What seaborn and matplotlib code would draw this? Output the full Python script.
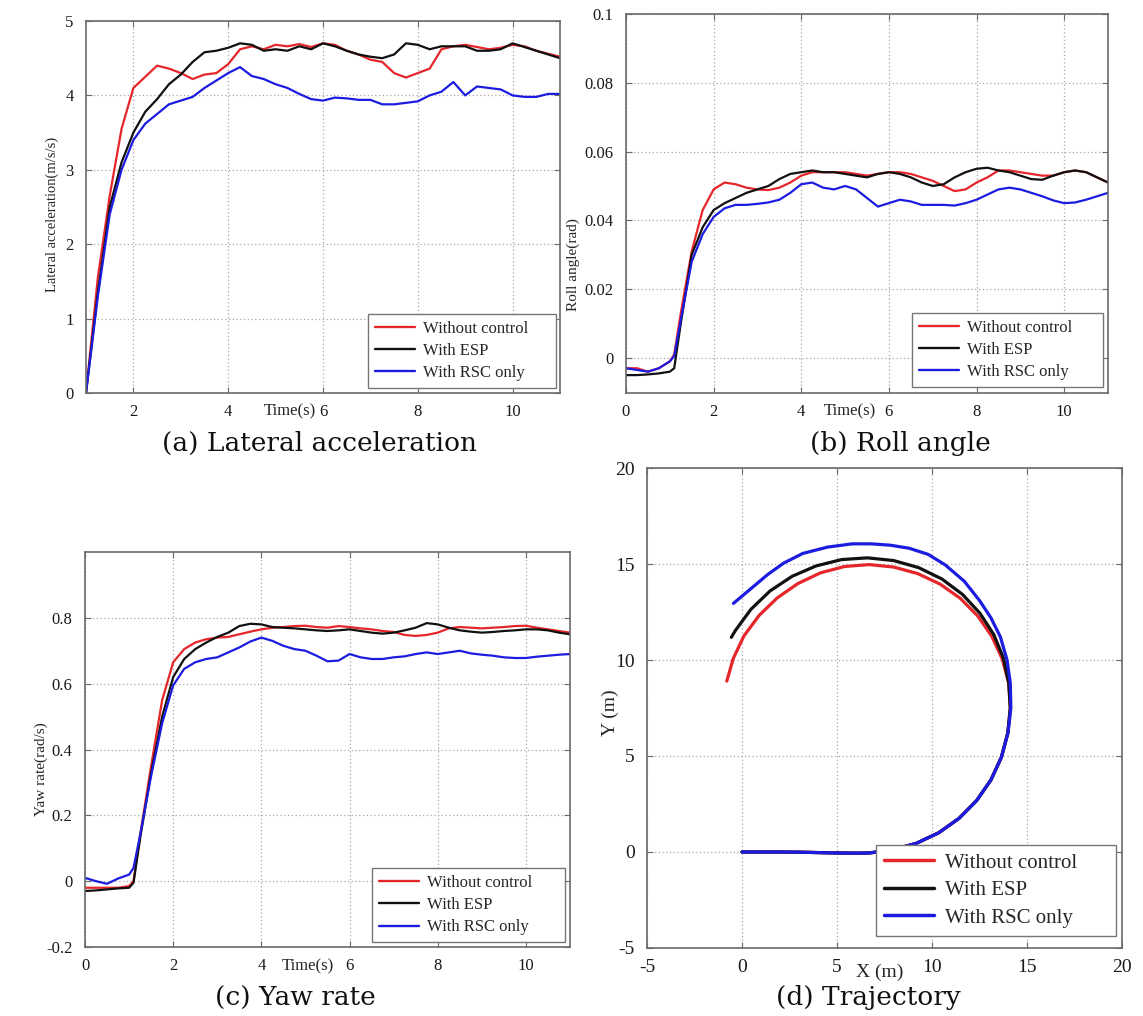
import numpy as np
import pandas as pd
import matplotlib
matplotlib.use("Agg")
import matplotlib.pyplot as plt
from matplotlib.lines import Line2D
import seaborn as sns

# ---------------- data ----------------
series_names = ["Without control", "With ESP", "With RSC only"]
series_colors = ["#e5262b", "#111111", "#1c1ce0"]

# (a) Lateral acceleration
t_a = [1.0, 1.25, 1.5, 1.75, 2.0, 2.25, 2.5, 2.75, 3.0, 3.25, 3.5, 3.75, 4.0, 4.25, 4.5, 4.75,
       5.0, 5.25, 5.5, 5.75, 6.0, 6.25, 6.5, 6.75, 7.0, 7.25, 7.5, 7.75, 8.0, 8.25, 8.5, 8.75,
       9.0, 9.25, 9.5, 9.75, 10.0, 10.25, 10.5, 10.75, 11.0]
lat_none = [0.0, 1.55, 2.65, 3.55, 4.1, 4.25, 4.4, 4.36, 4.3, 4.22, 4.28, 4.3, 4.42, 4.62, 4.66, 4.62,
            4.68, 4.66, 4.69, 4.65, 4.7, 4.68, 4.6, 4.55, 4.48, 4.45, 4.3, 4.24, 4.3, 4.36, 4.62, 4.66,
            4.68, 4.65, 4.62, 4.64, 4.68, 4.66, 4.6, 4.56, 4.52]
lat_esp = [0.0, 1.35, 2.5, 3.1, 3.5, 3.78, 3.95, 4.15, 4.28, 4.45, 4.58, 4.6, 4.64, 4.7, 4.68, 4.6,
           4.62, 4.6, 4.66, 4.62, 4.7, 4.66, 4.6, 4.55, 4.52, 4.5, 4.55, 4.7, 4.68, 4.62, 4.66, 4.66,
           4.66, 4.6, 4.6, 4.62, 4.7, 4.65, 4.6, 4.55, 4.5]
lat_rsc = [0.0, 1.3, 2.4, 3.0, 3.4, 3.62, 3.75, 3.88, 3.93, 3.98, 4.1, 4.2, 4.3, 4.38, 4.26, 4.22,
           4.15, 4.1, 4.02, 3.95, 3.93, 3.97, 3.96, 3.94, 3.94, 3.88, 3.88, 3.9, 3.92, 4.0, 4.05, 4.18,
           4.0, 4.12, 4.1, 4.08, 4.0, 3.98, 3.98, 4.02, 4.02]

# (b) Roll angle and (c) Yaw rate share a time base
t_bc = [0.0, 0.25, 0.5, 0.75, 1.0, 1.1, 1.25, 1.5, 1.75, 2.0, 2.25, 2.5, 2.75, 3.0, 3.25, 3.5,
        3.75, 4.0, 4.25, 4.5, 4.75, 5.0, 5.25, 5.5, 5.75, 6.0, 6.25, 6.5, 6.75, 7.0, 7.25, 7.5,
        7.75, 8.0, 8.25, 8.5, 8.75, 9.0, 9.25, 9.5, 9.75, 10.0, 10.25, 10.5, 10.75, 11.0]
roll_none = [-0.003, -0.003, -0.004, -0.003, -0.001, 0.001, 0.013, 0.031, 0.043, 0.049, 0.051, 0.0505,
             0.0495, 0.049, 0.0488, 0.0495, 0.051, 0.053, 0.054, 0.054, 0.054, 0.054, 0.0535, 0.053,
             0.0535, 0.054, 0.054, 0.0535, 0.0525, 0.0515, 0.05, 0.0485, 0.049, 0.051, 0.0525, 0.0545,
             0.0545, 0.054, 0.0535, 0.053, 0.053, 0.054, 0.0545, 0.054, 0.0525, 0.051]
roll_esp = [-0.005, -0.005, -0.0048, -0.0045, -0.004, -0.003, 0.01, 0.03, 0.038, 0.043, 0.045, 0.0465,
            0.048, 0.049, 0.05, 0.052, 0.0535, 0.054, 0.0545, 0.054, 0.054, 0.0535, 0.053, 0.0525,
            0.0535, 0.054, 0.0535, 0.0525, 0.051, 0.05, 0.0505, 0.0525, 0.054, 0.055, 0.0553, 0.0545,
            0.054, 0.053, 0.052, 0.0518, 0.053, 0.054, 0.0545, 0.054, 0.0525, 0.051]
roll_rsc = [-0.003, -0.0035, -0.004, -0.003, -0.001, 0.0005, 0.011, 0.028, 0.036, 0.041, 0.0435, 0.0445,
            0.0445, 0.0448, 0.0452, 0.046, 0.048, 0.0505, 0.051, 0.0495, 0.049, 0.05, 0.049, 0.0465,
            0.044, 0.045, 0.046, 0.0455, 0.0445, 0.0445, 0.0445, 0.0443, 0.045, 0.046, 0.0475, 0.049,
            0.0495, 0.049, 0.048, 0.047, 0.0458, 0.045, 0.0452, 0.046, 0.047, 0.048]

yaw_none = [-0.02, -0.02, -0.02, -0.02, -0.015, 0.0, 0.14, 0.35, 0.55, 0.665, 0.705, 0.725, 0.735, 0.74,
            0.742, 0.75, 0.758, 0.765, 0.77, 0.772, 0.775, 0.776, 0.772, 0.77, 0.775, 0.772, 0.768,
            0.765, 0.76, 0.757, 0.748, 0.745, 0.748, 0.755, 0.768, 0.772, 0.77, 0.768, 0.77, 0.772,
            0.775, 0.776, 0.77, 0.765, 0.76, 0.755]
yaw_esp = [-0.03, -0.028, -0.025, -0.022, -0.02, -0.005, 0.13, 0.33, 0.5, 0.62, 0.675, 0.705, 0.725,
           0.742, 0.755, 0.775, 0.782, 0.78, 0.772, 0.77, 0.768, 0.765, 0.762, 0.76, 0.762, 0.765,
           0.76, 0.755, 0.752, 0.755, 0.762, 0.77, 0.784, 0.78, 0.77, 0.762, 0.758, 0.755, 0.757,
           0.76, 0.762, 0.765, 0.765, 0.762, 0.755, 0.75]
yaw_rsc = [0.01, 0.0, -0.008, 0.008, 0.02, 0.04, 0.14, 0.32, 0.48, 0.595, 0.645, 0.665, 0.675, 0.68,
           0.695, 0.71, 0.728, 0.74, 0.73, 0.715, 0.705, 0.7, 0.685, 0.668, 0.67, 0.69, 0.68, 0.675,
           0.675, 0.68, 0.683, 0.69, 0.695, 0.69, 0.695, 0.7, 0.692, 0.688, 0.685, 0.68, 0.678,
           0.678, 0.682, 0.685, 0.688, 0.69]

# (d) Trajectory
traj_x_none = [0, 1, 2, 3, 4, 5, 6, 6.7, 7.9, 9.17, 10.35, 11.42, 12.35, 13.1, 13.65, 13.99, 14.12,
               14.04, 13.7, 13.15, 12.41, 11.49, 10.43, 9.25, 7.99, 6.7, 5.4, 4.13, 2.94, 1.85, 0.9,
               0.1, -0.46, -0.8]
traj_y_none = [0, 0, 0, -0.01, -0.03, -0.05, -0.06, -0.05, 0.11, 0.45, 1.0, 1.75, 2.68, 3.75, 4.93,
               6.2, 7.5, 8.79, 10.05, 11.23, 12.29, 13.21, 13.95, 14.5, 14.84, 14.97, 14.87, 14.54,
               13.98, 13.23, 12.32, 11.25, 10.08, 8.9]
traj_x_esp = [0, 1, 2, 3, 4, 5, 6, 6.7, 7.9, 9.17, 10.35, 11.42, 12.35, 13.1, 13.65, 13.99, 14.12,
              14.04, 13.76, 13.25, 12.52, 11.6, 10.52, 9.3, 7.98, 6.6, 5.24, 3.9, 2.64, 1.48, 0.47,
              -0.36, -0.56]
traj_y_esp = [0, 0, 0, -0.01, -0.03, -0.05, -0.06, -0.05, 0.11, 0.45, 1.0, 1.75, 2.68, 3.75, 4.93,
              6.2, 7.5, 8.81, 10.1, 11.33, 12.44, 13.42, 14.22, 14.81, 15.18, 15.32, 15.23, 14.9,
              14.36, 13.6, 12.64, 11.52, 11.18]
traj_x_rsc = [0, 1, 2, 3, 4, 5, 6, 6.7, 7.9, 9.17, 10.35, 11.42, 12.35, 13.1, 13.65, 14.0, 14.15,
              14.12, 13.95, 13.6, 13.1, 12.5, 11.7, 10.7, 9.8, 8.8, 7.8, 6.8, 5.8, 4.5, 3.2, 2.2,
              1.35, 0.45, -0.45]
traj_y_rsc = [0, 0, 0, -0.01, -0.03, -0.05, -0.06, -0.05, 0.11, 0.45, 1.0, 1.75, 2.68, 3.75, 4.93,
              6.2, 7.5, 8.8, 10.0, 11.2, 12.2, 13.1, 14.1, 14.95, 15.5, 15.82, 15.98, 16.05, 16.05,
              15.88, 15.55, 15.05, 14.45, 13.7, 12.95]

# tick labels
ticks_a_x = [2, 4, 6, 8, 10]
ticks_a_y = [0, 1, 2, 3, 4, 5]
ticks_b_x = [0, 2, 4, 6, 8, 10]
ticks_b_y = [0, 0.02, 0.04, 0.06, 0.08, 0.1]
labels_b_y = ["0", "0.02", "0.04", "0.06", "0.08", "0.1"]
ticks_c_y = [-0.2, 0, 0.2, 0.4, 0.6, 0.8]
labels_c_y = ["-0.2", "0", "0.2", "0.4", "0.6", "0.8"]
ticks_d = [-5, 0, 5, 10, 15, 20]
labels_d = ["-5", "0", "5", "10", "15", "20"]

captions = ["(a) Lateral acceleration", "(b) Roll angle", "(c) Yaw rate", "(d) Trajectory"]

# ---------------- style ----------------
sns.set_theme(style="ticks")
plt.rcParams["font.family"] = ["Liberation Serif", "DejaVu Serif"]
plt.rcParams["axes.unicode_minus"] = False
plt.rcParams["axes.edgecolor"] = "#6a6a6a"
plt.rcParams["xtick.color"] = "#6a6a6a"
plt.rcParams["ytick.color"] = "#6a6a6a"
plt.rcParams["xtick.labelcolor"] = "#1a1a1a"
plt.rcParams["ytick.labelcolor"] = "#1a1a1a"

W, H = 1143, 1016
fig = plt.figure(figsize=(W / 100, H / 100), dpi=100)


def px_axes(l, t, r, b):
    return fig.add_axes([l / W, 1 - b / H, (r - l) / W, (b - t) / H])


def long_df(x, ys, xname="t"):
    frames = []
    for name, y in zip(series_names, ys):
        frames.append(pd.DataFrame({xname: x, "v": y, "series": name}))
    return pd.concat(frames, ignore_index=True)


def long_df_xy(xs, ys):
    frames = []
    for name, x, y in zip(series_names, xs, ys):
        frames.append(pd.DataFrame({"x": x, "y": y, "series": name}))
    return pd.concat(frames, ignore_index=True)


def style_axes(ax, tick_size=12):
    for s in ax.spines.values():
        s.set_visible(True)
        s.set_linewidth(1.2)
        s.set_color("#6a6a6a")
    ax.tick_params(direction="in", length=4, width=0.8, labelsize=tick_size,
                   top=True, right=True)
    ax.tick_params(axis="x", pad=8)
    ax.tick_params(axis="y", pad=9)
    ax.grid(True, linestyle=(0, (1, 2)), color="#a8a8a8", linewidth=0.9)
    ax.set_axisbelow(True)


def add_legend(ax, x0, y0, x1, y1, size=12, lw=1.7):
    handles = [Line2D([0], [0], color=c, lw=lw) for c in series_colors]
    leg = ax.legend(handles, series_names, loc="lower left", mode="expand",
                    bbox_to_anchor=(x0 / W, 1 - y1 / H, (x1 - x0) / W, (y1 - y0) / H),
                    bbox_transform=fig.transFigure,
                    borderaxespad=0, fancybox=False, frameon=True, fontsize=size,
                    handlelength=2.4, handletextpad=0.5, labelspacing=0.38,
                    borderpad=0.4)
    fr = leg.get_frame()
    fr.set_edgecolor("#777777")
    fr.set_linewidth(1.0)
    fr.set_alpha(1)
    return leg


palette = dict(zip(series_names, series_colors))

# (a)
ax = px_axes(86, 21, 560, 393)
sns.lineplot(data=long_df(t_a, [lat_none, lat_esp, lat_rsc]), x="t", y="v", hue="series",
             palette=palette, estimator=None, linewidth=1.6, legend=False, ax=ax)
ax.set_xlim(1, 11)
ax.set_ylim(0, 5)
ax.set_xticks(ticks_a_x)
ax.set_yticks(ticks_a_y)
style_axes(ax)
ax.set_xlabel("Time(s)", fontsize=12)
ax.xaxis.set_label_coords(0.43, -0.05)
ax.xaxis.label.set_va("center")
ax.set_ylabel("Lateral acceleration(m/s/s)", fontsize=10.5)
ax.yaxis.set_label_coords(-0.056, 0.48)
add_legend(ax, 368, 315, 556, 388)

# (b)
ax = px_axes(626, 14, 1108, 393)
sns.lineplot(data=long_df(t_bc, [roll_none, roll_esp, roll_rsc]), x="t", y="v", hue="series",
             palette=palette, estimator=None, linewidth=1.6, legend=False, ax=ax)
ax.set_xlim(0, 11)
ax.set_ylim(-0.0102, 0.1)
ax.set_xticks(ticks_b_x)
ax.set_yticks(ticks_b_y)
ax.set_yticklabels(labels_b_y)
style_axes(ax)
ax.set_xlabel("Time(s)", fontsize=12)
ax.xaxis.set_label_coords(0.465, -0.049)
ax.xaxis.label.set_va("center")
ax.set_ylabel("Roll angle(rad)", fontsize=11)
ax.yaxis.set_label_coords(-0.095, 0.34)
add_legend(ax, 912, 313, 1103, 387)

# (c)
ax = px_axes(85, 552, 570, 947)
sns.lineplot(data=long_df(t_bc, [yaw_none, yaw_esp, yaw_rsc]), x="t", y="v", hue="series",
             palette=palette, estimator=None, linewidth=1.6, legend=False, ax=ax)
ax.set_xlim(0, 11)
ax.set_ylim(-0.2, 1.0)
ax.set_xticks(ticks_b_x)
ax.set_yticks(ticks_c_y)
ax.set_yticklabels(labels_c_y)
style_axes(ax)
ax.set_xlabel("Time(s)", fontsize=12)
ax.xaxis.set_label_coords(0.46, -0.05)
ax.xaxis.label.set_va("center")
ax.set_ylabel("Yaw rate(rad/s)", fontsize=11)
ax.yaxis.set_label_coords(-0.077, 0.45)
add_legend(ax, 372, 863, 565, 942)

# (d)
ax = px_axes(647, 468, 1122, 948)
sns.lineplot(data=long_df_xy([traj_x_none, traj_x_esp, traj_x_rsc],
                             [traj_y_none, traj_y_esp, traj_y_rsc]),
             x="x", y="y", hue="series", units="series", sort=False, palette=palette,
             estimator=None, linewidth=2.3, legend=False, ax=ax)
ax.set_xlim(-5, 20)
ax.set_ylim(-5, 20)
ax.set_xticks(ticks_d)
ax.set_xticklabels(labels_d)
ax.set_yticks(ticks_d)
ax.set_yticklabels(labels_d)
style_axes(ax, tick_size=14)
ax.set_xlabel("X (m)", fontsize=14)
ax.xaxis.set_label_coords(0.49, -0.05)
ax.xaxis.label.set_va("center")
ax.set_ylabel("Y (m)", fontsize=14)
ax.yaxis.set_label_coords(-0.058, 0.49)
add_legend(ax, 876, 843, 1116, 936, size=15, lw=2.5)

# captions
cap_pos = [(320, 443), (900, 443), (295, 998), (868, 998)]
for txt, (cx, cy) in zip(captions, cap_pos):
    fig.text(cx / W, 1 - cy / H, txt, ha="center", va="center", fontsize=19,
             family=["DejaVu Serif"], color="#111111")

fig.savefig("out.png", dpi=100, facecolor="white")
